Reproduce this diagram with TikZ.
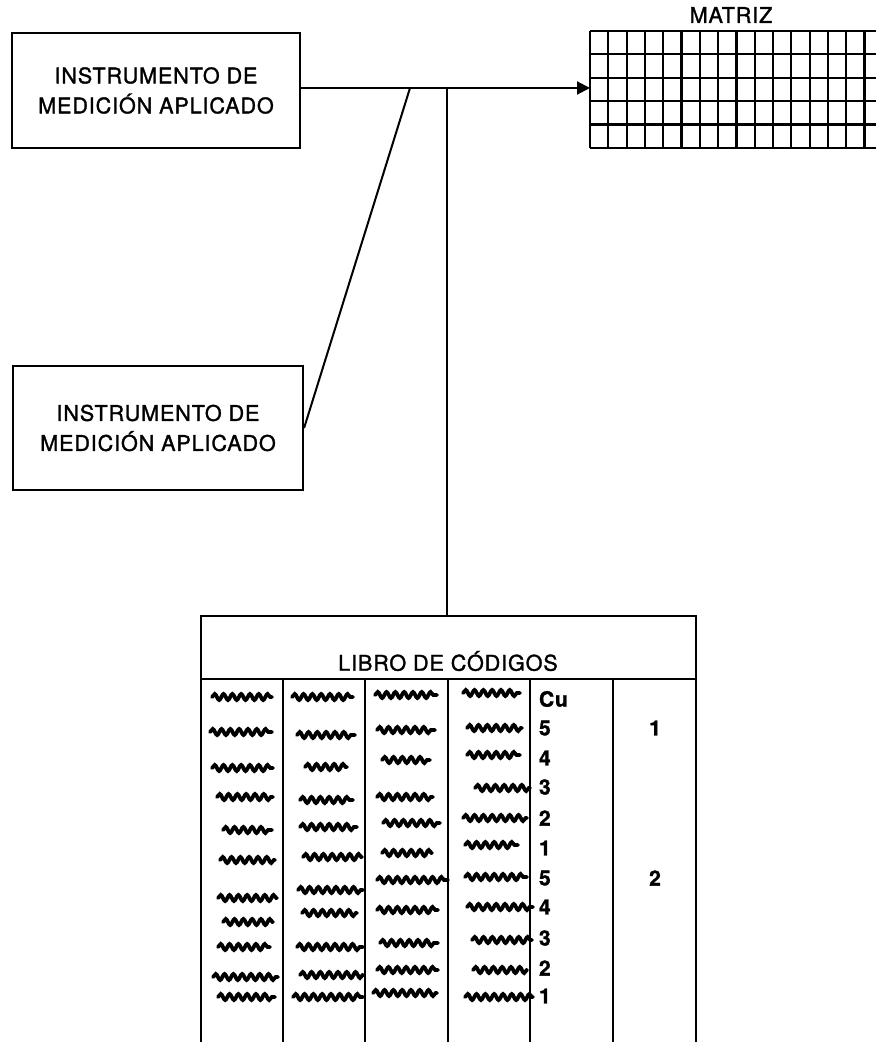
\documentclass[tikz,border=0pt]{standalone}
\usepackage{fontspec}
\newfontfamily\helv[LetterSpace=4,FakeBold=1.4]{TeX Gyre Heros}
\usetikzlibrary{arrows.meta,decorations.pathmorphing}

\begin{document}
\begin{tikzpicture}[x=0.5pt,y=-0.5pt,line width=1pt,>={Triangle[length=6.5pt,width=6.5pt]},
  caja/.style={draw,line width=1.1pt,align=center,inner sep=0pt,font=\helv\fontsize{10.8}{15}\selectfont},
  rotulo/.style={inner sep=0pt,font=\helv\fontsize{10.8}{15}\selectfont},
  cifra/.style={inner sep=0pt,anchor=west,font=\helv\bfseries\fontsize{10.5}{13}\selectfont},
  garabato/.style={line width=1.9pt,line cap=round,decorate,decoration={snake,amplitude=1.5pt,segment length=4.4pt}}]
\clip (0,0) rectangle (876,1042);

% instrumentos
\node[caja,minimum width=144pt,minimum height=57.5pt] (inst1) at (156,90.5) {INSTRUMENTO DE\\MEDICIÓN APLICADO};
\node[caja,minimum width=145pt,minimum height=62pt] (inst2) at (158,428) {INSTRUMENTO DE\\MEDICIÓN APLICADO};

% matriz
\node[inner sep=0pt,minimum width=146.5pt,minimum height=58.5pt,anchor=north west] (matriz) at (590,31) {};
\foreach \i in {0,...,16}
  \draw[line width=1.1pt] (590+18.3*\i,31) -- (590+18.3*\i,148);
\foreach \j in {0,...,5}
  \draw[line width=1.1pt] (590,31+23.4*\j) -- (883,31+23.4*\j);
\node[rotulo] (titmatriz) at (731,15) {MATRIZ};

% conectores
\coordinate (cruce) at (410,88);
\coordinate (bajada) at (447,88);
\draw[->] (inst1.east |- bajada) -- (bajada -| matriz.west);
\draw (cruce) -- (inst2.east);

% libro de codigos
\node[draw,inner sep=0pt,minimum width=247.5pt,minimum height=217.5pt,anchor=north west] (libro) at (200,615) {};
\draw (bajada) -- (bajada |- libro.north);
\node[rotulo] (titlibro) at (448,661) {LIBRO DE CÓDIGOS};
\coordinate (sep) at (0,679);
\draw (libro.west |- sep) -- (libro.east |- sep);
\foreach \c in {1,...,5}
  \draw (200+82.5*\c,679) -- (200+82.5*\c,1050);

\foreach \t/\y [count=\k] in {Cu/699,5/728,4/758,3/787,2/818,1/848,5/878,4/907,3/938,2/968,1/996}
  \node[cifra] (cod\k) at (538,\y) {\t};
\node[cifra,anchor=center] (grupo1) at (655,728) {1};
\node[cifra,anchor=center] (grupo2) at (655,878) {2};

% garabatos
\foreach \a/\b/\y in {212/272/697,210/272/732,212/273/768,217/273/797,223/272/830,220/275/860,
                      218/277/898,223/273/922,218/270/947,213/278/977,218/275/997,
                      292/353/697,297/355/735,305/347/767,300/353/800,300/357/827,303/362/857,
                      298/363/890,302/357/913,297/363/947,300/363/975,293/363/997,
                      375/437/695,377/435/730,382/430/760,377/433/797,383/440/823,382/432/853,
                      377/448/880,377/438/910,380/438/943,377/438/970,373/437/993,
                      463/520/693,467/522/728,467/520/755,475/530/788,463/527/818,465/518/845,
                      465/527/877,467/533/907,472/532/940,473/527/970,465/533/997}
  \draw[garabato] (\a,\y) -- (\b,\y);
\end{tikzpicture}
\end{document}
